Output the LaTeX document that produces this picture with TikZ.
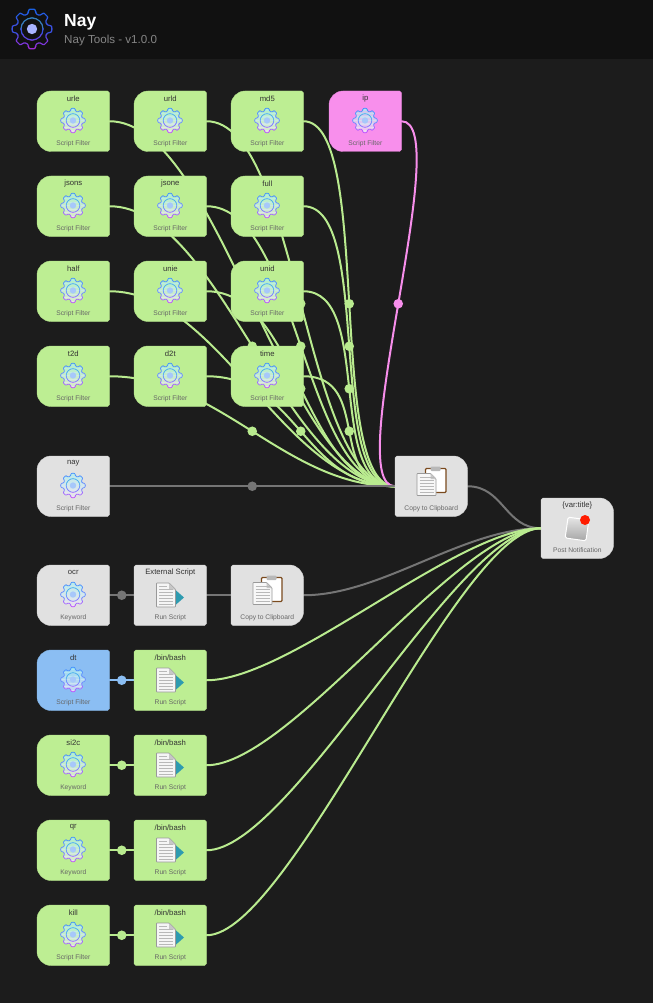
\documentclass[tikz,border=0pt]{standalone}
\usepackage{fontspec}
\setmainfont{Liberation Sans}
\pgfdeclarelayer{edges}
\pgfsetlayers{edges,main}
\definecolor{bgc}{HTML}{1C1C1C}
\definecolor{headc}{HTML}{111111}
\definecolor{greenc}{HTML}{BDEE93}
\definecolor{grayc}{HTML}{E1E1E1}
\definecolor{bluec}{HTML}{8BBEF3}
\definecolor{pinkc}{HTML}{F88FEC}
\definecolor{lgray}{HTML}{757575}
\definecolor{lgreen}{HTML}{B9EB8F}
\definecolor{lblue}{HTML}{8BBEF3}
\definecolor{lpink}{HTML}{F78EEB}
\definecolor{gA}{HTML}{3E90FF}
\definecolor{gM}{HTML}{6A90FF}
\definecolor{gB}{HTML}{C050FF}
\definecolor{gR}{HTML}{40C8E0}
\definecolor{gD}{HTML}{A7C8FA}
\definecolor{gT}{HTML}{A8F0F0}
\definecolor{gL}{HTML}{F4E8F4}
\definecolor{brownc}{HTML}{7A4A1E}
\definecolor{tealc}{HTML}{2E9BB0}
\tikzset{
  x=1pt,y=-1pt,
  flowbox/.style={anchor=north west,minimum width=72.5pt,minimum height=60.5pt,inner sep=0pt,outer sep=0pt},
  titletext/.style={font=\fontsize{7.7}{8}\selectfont,text=black!80,inner sep=0pt},
  subtext/.style={font=\fontsize{6.7}{7}\selectfont,text=black!60,inner sep=0pt},
  edgeline/.style={line width=2pt,line cap=round},
  dotmark/.style={circle,inner sep=0pt,minimum size=9.6pt,fill=#1},
}
% colour x y w h tl tr br bl
\newcommand\cornerbox[9]{%
  \path[fill=#1,draw=#1!94!black,line width=.4pt]
   (#2+#6,#3) -- (#2+#4-#7,#3)
   .. controls (#2+#4-.45*#7,#3) and (#2+#4,#3+.45*#7) .. (#2+#4,#3+#7)
   -- (#2+#4,#3+#5-#8)
   .. controls (#2+#4,#3+#5-.45*#8) and (#2+#4-.45*#8,#3+#5) .. (#2+#4-#8,#3+#5)
   -- (#2+#9,#3+#5)
   .. controls (#2+.45*#9,#3+#5) and (#2,#3+#5-.45*#9) .. (#2,#3+#5-#9)
   -- (#2,#3+#6)
   .. controls (#2,#3+.45*#6) and (#2+.45*#6,#3) .. (#2+#6,#3) -- cycle;}
\newcommand\gearoutline{(-22.5:9.6) \foreach \a in {0,45,...,315}{ -- ({\a-16}:9.6) -- ({\a-8.5}:12.3) -- ({\a+8.5}:12.3) -- ({\a+16}:9.6) } -- cycle}
% x y scale linewidth fillopacity
\newcommand\gearicon[5]{%
 \begin{scope}[shift={(#1,#2)},scale=#3]
  \foreach \k in {0,...,7}{
   \pgfmathsetmacro\yy{-14+3.5*\k}
   \pgfmathsetmacro\yz{\yy+3.6}
   \pgfmathsetmacro\qq{100-\k*14}
   \colorlet{gf}{gT!\qq!gL}
   \ifnum\k<4
    \pgfmathsetmacro\pp{100-\k*33}
    \colorlet{gc}{gA!\pp!gM}
   \else
    \pgfmathsetmacro\pp{100-(\k-4)*33}
    \colorlet{gc}{gM!\pp!gB}
   \fi
   \colorlet{gr}{gc!45!gR}
   \ifnum\k>3 \colorlet{gr}{gc}\fi
   \begin{scope}
    \clip (-15,\yy) rectangle (15,\yz);
    \fill[gf,opacity=#5,rounded corners=.8pt] \gearoutline;
    \draw[gc,line width=#4,rounded corners=.8pt] \gearoutline;
    \draw[gr,line width=#4] (0,0) circle (6.8);
   \end{scope}
  }
  \fill[gD] (0,0) circle (3.2);
 \end{scope}}
% centre x, centre y
\newcommand\docicon[2]{%
 \begin{scope}[shift={(#1,#2)}]
  \fill[tealc] (9.5,-5) -- (18,2.5) -- (9.5,10) -- cycle;
  \path[fill=white!96!black,draw=black!40,line width=.8pt,rounded corners=.6pt] (-9.5,-12) -- (3,-12) -- (9.5,-5.5) -- (9.5,12) -- (-9.5,12) -- cycle;
  \path[fill=black!22] (3,-12) -- (3,-5.5) -- (9.5,-5.5) -- cycle;
  \foreach \v in {-6,-3,0,3,6,9}{\draw[black!28,line width=.7pt] (-7,\v) -- (7,\v);}
  \draw[black!28,line width=.7pt] (-7,-9) -- (1,-9);
 \end{scope}}
\newcommand\clipicon[2]{%
 \begin{scope}[shift={(#1,#2)}]
  \path[fill=white,draw=brownc,line width=1.2pt,rounded corners=1pt] (-6,-17.5) -- (14.5,-17.5) -- (14.5,6.5) -- (-6,6.5) -- cycle;
  \fill[black!28,rounded corners=1pt] (-1,-19.5) rectangle (9,-15);
  \path[fill=white!97!black,draw=black!40,line width=.8pt,rounded corners=.6pt] (-14.5,-12.5) -- (-1,-12.5) -- (4.5,-7) -- (4.5,9.5) -- (-14.5,9.5) -- cycle;
  \path[fill=black!22] (-1,-12.5) -- (-1,-7) -- (4.5,-7) -- cycle;
  \foreach \v in {-9,-6,-3,0,3,6}{\draw[black!28,line width=.7pt] (-12,\v) -- (2.5,\v);}
 \end{scope}}
% name x y title sub
\newcommand\flownode[5]{%
 \node[flowbox] (#1) at (#2,#3) {};
 \node[titletext] (#1-t) at (#2+36.3,#3+7.6) {#4};
 \node[subtext] (#1-s) at (#2+36.3,#3+52.3) {#5};
}
\newcommand\filternode[6]{% name x y colour title sub
 \cornerbox{#4}{#2}{#3}{72.5}{60.5}{14}{1.8}{1.8}{14}
 \flownode{#1}{#2}{#3}{#5}{#6}
 \gearicon{#2+36}{#3+29.5}{1}{.75pt}{.6}}
\newcommand\scriptnode[6]{% name x y colour title sub
 \cornerbox{#4}{#2}{#3}{72.5}{60.5}{1.8}{1.8}{1.8}{1.8}
 \flownode{#1}{#2}{#3}{#5}{#6}
 \docicon{#2+32}{#3+30}}
\newcommand\copynode[3]{% name x y
 \cornerbox{grayc}{#2}{#3}{72.5}{60.5}{1.8}{14}{14}{1.8}
 \flownode{#1}{#2}{#3}{}{Copy to Clipboard}
 \clipicon{#2+36.5}{#3+30}}
% from to colour h
\newcommand\linkdot[4]{%
 \draw[edgeline,#3] (#1.east) .. controls +(#4,0) and +(-#4,0) .. node[pos=.5,dotmark=#3] (#1-d) {} (#2.west);}
\newcommand\linkplain[4]{%
 \draw[edgeline,#3] (#1.east) .. controls +(#4,0) and +(-#4,0) .. (#2.west);}
\begin{document}
\begin{tikzpicture}
\useasboundingbox (0,0) rectangle (653,1003);
\filternode{urle}{37}{91}{greenc}{urle}{Script Filter}
\filternode{urld}{134}{91}{greenc}{urld}{Script Filter}
\filternode{md5}{231}{91}{greenc}{md5}{Script Filter}
\filternode{ip}{329}{91}{pinkc}{ip}{Script Filter}
\filternode{jsons}{37}{176}{greenc}{jsons}{Script Filter}
\filternode{jsone}{134}{176}{greenc}{jsone}{Script Filter}
\filternode{full}{231}{176}{greenc}{full}{Script Filter}
\filternode{half}{37}{261}{greenc}{half}{Script Filter}
\filternode{unie}{134}{261}{greenc}{unie}{Script Filter}
\filternode{unid}{231}{261}{greenc}{unid}{Script Filter}
\filternode{t2d}{37}{346}{greenc}{t2d}{Script Filter}
\filternode{d2t}{134}{346}{greenc}{d2t}{Script Filter}
\filternode{time}{231}{346}{greenc}{time}{Script Filter}
\filternode{nay}{37}{456}{grayc}{nay}{Script Filter}
\copynode{copyA}{395}{456}
\cornerbox{grayc}{541}{498}{72.5}{60.5}{1.8}{14}{14}{1.8}
\flownode{post}{541}{498}{\{var:title\}}{Post Notification}
\begin{scope}[shift={(577,529)},rotate=-8]
 \path[top color=black!10,bottom color=black!35,draw=white,line width=1pt,rounded corners=1.5pt] (-10.5,-10.5) rectangle (10.5,10.5);
\end{scope}
\fill[red!78!orange] (585,520) circle (5);
\filternode{ocr}{37}{565}{grayc}{ocr}{Keyword}
\scriptnode{ext}{134}{565}{grayc}{External Script}{Run Script}
\copynode{copyB}{231}{565}
\filternode{dt}{37}{650}{bluec}{dt}{Script Filter}
\scriptnode{bashA}{134}{650}{greenc}{/bin/bash}{Run Script}
\filternode{si2c}{37}{735}{greenc}{si2c}{Keyword}
\scriptnode{bashB}{134}{735}{greenc}{/bin/bash}{Run Script}
\filternode{qr}{37}{820}{greenc}{qr}{Keyword}
\scriptnode{bashC}{134}{820}{greenc}{/bin/bash}{Run Script}
\filternode{kill}{37}{905}{greenc}{kill}{Script Filter}
\scriptnode{bashD}{134}{905}{greenc}{/bin/bash}{Run Script}
% header
\definecolor{gA}{HTML}{1A62E6}
\definecolor{gM}{HTML}{3A50E0}
\definecolor{gB}{HTML}{A02AD8}
\definecolor{gR}{HTML}{3AA0A0}
\definecolor{gD}{HTML}{A9B4FF}
\gearicon{32}{29}{1.62}{1.2pt}{0}
\node[anchor=west,inner sep=0pt,text=white,font=\bfseries\fontsize{17.5}{18}\selectfont] (apptitle) at (64,22) {Nay};
\node[anchor=west,inner sep=0pt,text=white!52!black,font=\fontsize{11.6}{13}\selectfont] (appsub) at (64,41) {Nay Tools - v1.0.0};
\begin{pgfonlayer}{edges}
 \fill[bgc] (0,0) rectangle (653,1003);
 \fill[headc] (0,0) rectangle (653,59);
 \foreach \s in {urle,jsons,half,t2d}{\linkdot{\s}{copyA}{lgreen}{110}}
 \foreach \s in {urld,jsone,unie,d2t}{\linkdot{\s}{copyA}{lgreen}{92}}
 \foreach \s in {md5,full,unid,time}{\linkdot{\s}{copyA}{lgreen}{70}}
 \linkdot{ip}{copyA}{lpink}{55}
 \linkdot{nay}{copyA}{lgray}{58}
 \linkdot{ocr}{ext}{lgray}{12}
 \linkplain{ext}{copyB}{lgray}{12}
 \linkplain{copyA}{post}{lgray}{36}
 \linkplain{copyB}{post}{lgray}{78}
 \linkdot{dt}{bashA}{lblue}{12}
 \linkdot{si2c}{bashB}{lgreen}{12}
 \linkdot{qr}{bashC}{lgreen}{12}
 \linkdot{kill}{bashD}{lgreen}{12}
 \foreach \s in {bashA,bashB,bashC,bashD}{\linkplain{\s}{post}{lgreen}{84}}
\end{pgfonlayer}
\end{tikzpicture}
\end{document}
